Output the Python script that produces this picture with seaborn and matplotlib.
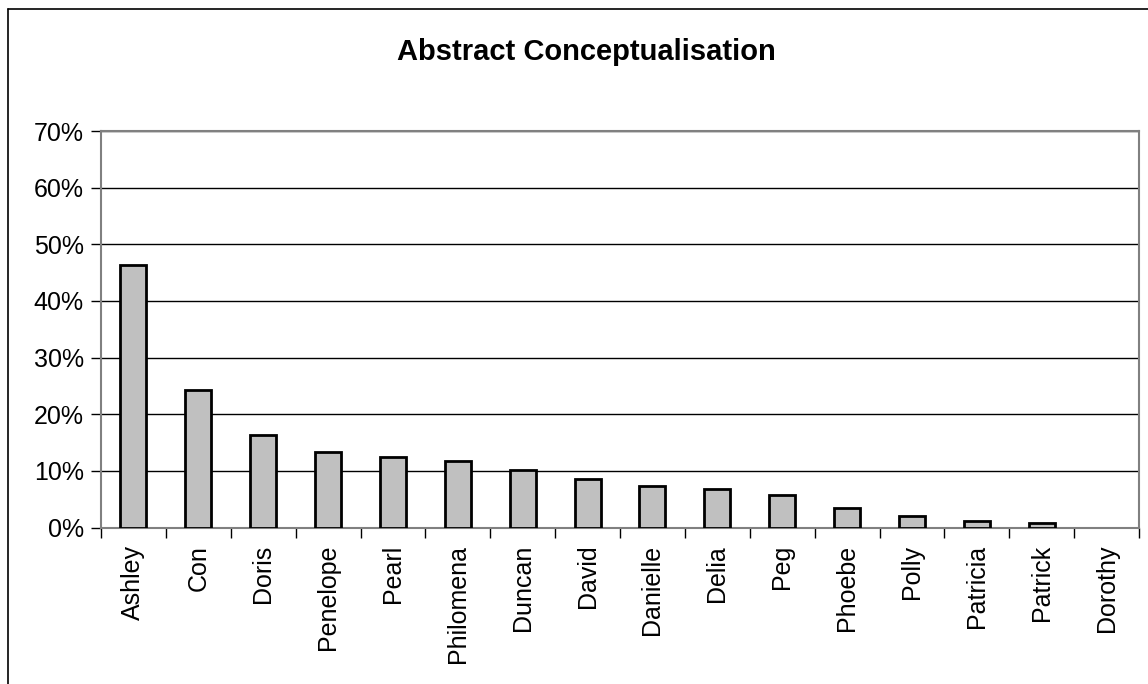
import matplotlib
matplotlib.use("Agg")
import matplotlib.pyplot as plt
import seaborn as sns
import pandas as pd
from matplotlib.ticker import PercentFormatter, FixedLocator
from matplotlib.lines import Line2D

names = ["Ashley", "Con", "Doris", "Penelope", "Pearl", "Philomena", "Duncan", "David",
         "Danielle", "Delia", "Peg", "Phoebe", "Polly", "Patricia", "Patrick", "Dorothy"]
values = [46.3, 24.3, 16.3, 13.4, 12.4, 11.8, 10.1, 8.5, 7.3, 6.8, 5.8, 3.5, 2.0, 1.2, 0.8, 0.0]

df = pd.DataFrame({"name": names, "pct": values})

sns.set_style("white", {"text.color": "black", "xtick.color": "black", "ytick.color": "black"})
plt.rcParams["font.family"] = ["Liberation Sans", "DejaVu Sans"]

fig = plt.figure(figsize=(11.48, 6.84), dpi=100)
ax = fig.add_axes([101 / 1148, 1 - 527.5 / 684, (1139 - 101) / 1148, (527.5 - 131) / 684])

sns.barplot(data=df, x="name", y="pct", color="#c0c0c0", width=0.4,
            edgecolor="black", linewidth=2, saturation=1, ax=ax, zorder=3)

# zero-height bars show no outline in the original
for p in ax.patches:
    if p.get_height() == 0:
        p.set_linewidth(0)

ax.set_ylim(0, 70)
ax.set_xlim(-0.5, len(names) - 0.5)
ax.yaxis.set_major_formatter(PercentFormatter(decimals=0))
ax.set_yticks(range(0, 71, 10))
ax.yaxis.grid(True, color="black", linewidth=1)
ax.set_axisbelow(True)
ax.set_xlabel("")
ax.set_ylabel("")

for s in ax.spines.values():
    s.set_color("#808080")
    s.set_linewidth(1.5)

ax.tick_params(axis="y", left=True, length=7, width=1, color="black", labelcolor="black",
               labelsize=18, pad=5.5)
ax.tick_params(axis="x", bottom=False, labelsize=18, pad=9, labelrotation=90, labelcolor="black")
ax.xaxis.set_minor_locator(FixedLocator([i - 0.5 for i in range(len(names) + 1)]))
ax.tick_params(axis="x", which="minor", bottom=True, length=7, width=1, color="black")

fig.text(586 / 1148, 1 - 52 / 684, "Abstract Conceptualisation", ha="center", va="center",
         fontsize=21, fontweight="bold", color="black")

fig.add_artist(Line2D([8 / 1148, 8 / 1148], [0, 1 - 9 / 684], color="black", linewidth=1.2,
                      transform=fig.transFigure))
fig.add_artist(Line2D([8 / 1148, 1], [1 - 9 / 684, 1 - 9 / 684], color="black", linewidth=1.2,
                      transform=fig.transFigure))

fig.savefig("out.png", dpi=100)
